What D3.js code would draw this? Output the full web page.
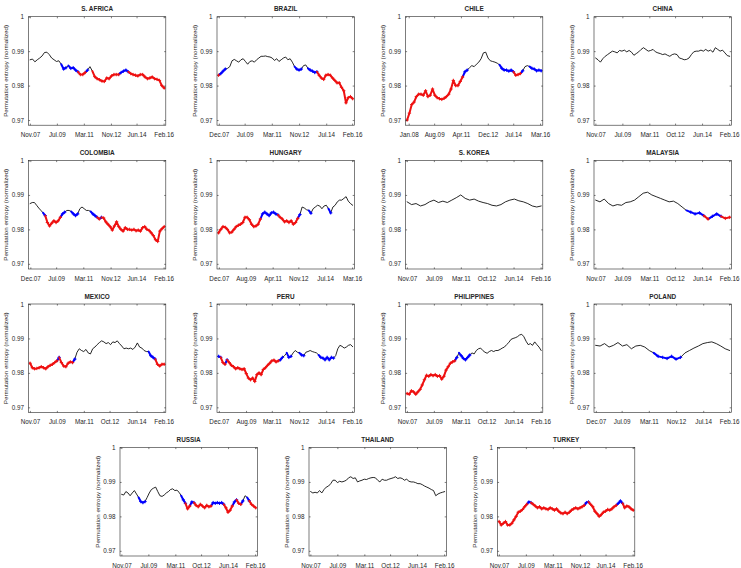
<!DOCTYPE html>
<html><head><meta charset="utf-8">
<script src="https://cdn.jsdelivr.net/npm/d3@7"></script>
<style>
body{margin:0;background:#fff}
svg{display:block}
text{font-family:"Liberation Sans",Arial,Helvetica,sans-serif;fill:#262626}
</style>
</head><body>
<svg id="chart" width="741" height="568"></svg>
<script>
// ---------------- DATA ----------------
const countries = ["S. AFRICA","BRAZIL","CHILE","CHINA","COLOMBIA","HUNGARY","S. KOREA","MALAYSIA",
  "MEXICO","PERU","PHILIPPINES","POLAND","RUSSIA","THAILAND","TURKEY"];

const xTickLabels = [
  ["Nov.07","Jul.09","Mar.11","Nov.12","Jun.14","Feb.16"],
  ["Dec.07","Jul.09","Mar.11","Nov.12","Jul.14","Feb.16"],
  ["Jan.08","Aug.09","Apr.11","Dec.12","Jul.14","Mar.16"],
  ["Nov.07","Jul.09","Mar.11","Oct.12","Jun.14","Feb.16"],
  ["Dec.07","Jul.09","Mar.11","Nov.12","Jun.14","Feb.16"],
  ["Dec.07","Aug.09","Apr.11","Nov.12","Jul.14","Mar.16"],
  ["Nov.07","Jul.09","Mar.11","Oct.12","Jun.14","Feb.16"],
  ["Nov.07","Jul.09","Mar.11","Oct.12","Jun.14","Feb.16"],
  ["Nov.07","Jul.09","Mar.11","Oct.12","Jun.14","Feb.16"],
  ["Dec.07","Aug.09","Mar.11","Nov.12","Jul.14","Feb.16"],
  ["Nov.07","Jul.09","Mar.11","Oct.12","Jun.14","Feb.16"],
  ["Dec.07","Jul.09","Mar.11","Nov.12","Jul.14","Feb.16"],
  ["Nov.07","Jul.09","Mar.11","Oct.12","Jun.14","Feb.16"],
  ["Nov.07","Jul.09","Mar.11","Oct.12","Jun.14","Feb.16"],
  ["Nov.07","Jul.09","Mar.11","Nov.12","Jun.14","Feb.16"]
];

// first and last observation date of each series
const periods = [
  ["2007-11-20","2016-02-28"],["2007-12-10","2016-02-28"],["2007-12-10","2016-04-10"],
  ["2007-11-20","2016-02-28"],["2007-12-10","2016-02-28"],["2007-12-10","2016-03-28"],
  ["2007-11-20","2016-02-28"],["2007-11-20","2016-02-28"],["2007-11-20","2016-02-28"],
  ["2007-12-10","2016-02-28"],["2007-11-20","2016-02-28"],["2007-12-10","2016-02-28"],
  ["2007-11-20","2016-02-28"],["2007-11-20","2016-02-28"],["2007-11-20","2016-02-28"]
];

const yTickValues = [0.97, 0.98, 0.99, 1];
const yTickLabels = ["0.97","0.98","0.99","1"];
const yRange = [0.9685, 1];

// runs of consecutive observations: k = normal, b = blue regime, r = red regime
const southAfrica = [
  ["k",[0.9875,0.9877,0.9869,0.9875,0.9880,0.9886,0.9896,0.9897,0.9890,0.9880,0.9875,0.9870,0.9872,0.9862]],
  ["b",[0.9848,0.9852]],["k",[0.9858]],["b",[0.9850,0.9852,0.9845,0.9840]],
  ["r",[0.9832,0.9832,0.9838]],["b",[0.9845]],["k",[0.9855,0.9842]],
  ["r",[0.9826,0.9820,0.9817,0.9813,0.9812,0.9822,0.9820,0.9828,0.9832,0.9832,0.9832]],
  ["b",[0.9838,0.9842,0.9845,0.9840]],
  ["r",[0.9835,0.9832,0.9830,0.9828,0.9832,0.9832,0.9825,0.9820,0.9822,0.9825,0.9820,0.9818,0.9815,0.9800,0.9793]]
];
const brazil = [
  ["r",[0.9830]],["b",[0.9835,0.9842,0.9848]],
  ["k",[0.9850,0.9855,0.9872,0.9876,0.9872,0.9868,0.9875,0.9878,0.9870,0.9862,0.9870,0.9872,0.9868,0.9875,0.9880,0.9885,0.9885,0.9886,0.9884,0.9883,0.9880,0.9873,0.9878,0.9870,0.9875,0.9880,0.9883,0.9875,0.9878,0.9868,0.9855]],
  ["b",[0.9848,0.9845,0.9848]],["k",[0.9858,0.9860,0.9850]],["b",[0.9845,0.9842,0.9838,0.9840]],
  ["r",[0.9830,0.9822,0.9818,0.9830,0.9832,0.9830,0.9822,0.9815,0.9808,0.9808,0.9795,0.9785,0.9750,0.9765,0.9768,0.9762]]
];
const chile = [
  ["r",[0.9700,0.9720,0.9745,0.9752,0.9768,0.9775,0.9775,0.9772,0.9785,0.9768,0.9772,0.9790,0.9772,0.9765,0.9762,0.9760,0.9763,0.9768,0.9775,0.9790,0.9815,0.9800,0.9800,0.9812,0.9825]],
  ["b",[0.9840,0.9845]],
  ["k",[0.9852,0.9858,0.9855,0.9862,0.9868,0.9878,0.9895,0.9897,0.9880,0.9872,0.9870,0.9868,0.9865,0.9860]],
  ["b",[0.9850,0.9845,0.9845,0.9842,0.9845,0.9840]],["r",[0.9830,0.9832,0.9835]],["b",[0.9843]],
  ["k",[0.9855,0.9858,0.9855]],["b",[0.9850,0.9848,0.9843,0.9845,0.9843]]
];
const china = [
  ["k",[0.9880,0.9875,0.9868,0.9878,0.9885,0.9890,0.9895,0.9900,0.9898,0.9895,0.9902,0.9900,0.9903,0.9898,0.9902,0.9897,0.9888,0.9893,0.9898,0.9905,0.9910,0.9905,0.9900,0.9902,0.9905,0.9898,0.9895,0.9893,0.9890,0.9892,0.9888,0.9885,0.9890,0.9892,0.9890,0.9880,0.9878,0.9875,0.9876,0.9880,0.9890,0.9898,0.9900,0.9900,0.9903,0.9900,0.9905,0.9900,0.9903,0.9897,0.9910,0.9905,0.9900,0.9903,0.9895,0.9887,0.9885]]
];
const colombia = [
  ["k",[0.9875,0.9878,0.9878,0.9870,0.9862,0.9855,0.9848]],["b",[0.9840]],
  ["r",[0.9820,0.9810,0.9818,0.9825,0.9820,0.9825,0.9835]],["b",[0.9845,0.9850]],
  ["k",[0.9855,0.9855,0.9852]],["b",[0.9845,0.9840,0.9845]],
  ["k",[0.9860,0.9865,0.9860,0.9855,0.9855,0.9852]],["b",[0.9845,0.9840,0.9835]],
  ["r",[0.9830]],["b",[0.9835]],
  ["r",[0.9833,0.9822,0.9815,0.9808,0.9798,0.9810,0.9822,0.9808,0.9800,0.9795,0.9805,0.9800,0.9800,0.9798,0.9800,0.9796,0.9798,0.9795,0.9805,0.9808,0.9800,0.9797,0.9790,0.9782,0.9770,0.9765,0.9795,0.9802,0.9808]]
];
const hungary = [
  ["r",[0.9790,0.9800,0.9808,0.9806,0.9800,0.9790,0.9792,0.9800,0.9808,0.9812,0.9815,0.9820,0.9835,0.9835,0.9828,0.9815,0.9808,0.9810,0.9815,0.9830]],
  ["b",[0.9845,0.9850,0.9845,0.9840,0.9848,0.9850,0.9845,0.9842]],
  ["r",[0.9835,0.9830,0.9822,0.9825,0.9820,0.9825,0.9815,0.9820,0.9832]],
  ["b",[0.9843]],["k",[0.9865,0.9862,0.9857,0.9855]],["b",[0.9847]],
  ["k",[0.9860,0.9865,0.9870,0.9868,0.9860,0.9868,0.9870,0.9860]],["b",[0.9848]],
  ["k",[0.9865,0.9870,0.9880,0.9885,0.9885,0.9890,0.9895,0.9882,0.9875,0.9870]]
];
const southKorea = [
  ["k",[0.9880,0.9872,0.9875,0.9868,0.9872,0.9880,0.9885,0.9878,0.9882,0.9878,0.9885,0.9892,0.9900,0.9890,0.9885,0.9888,0.9882,0.9878,0.9875,0.9870,0.9868,0.9872,0.9880,0.9885,0.9888,0.9883,0.9880,0.9875,0.9868,0.9865,0.9868]]
];
const malaysia = [
  ["k",[0.9885,0.9880,0.9888,0.9875,0.9868,0.9872,0.9870,0.9878,0.9880,0.9885,0.9895,0.9905,0.9908,0.9900,0.9895,0.9890,0.9885,0.9880,0.9882,0.9875,0.9865,0.9855]],
  ["b",[0.9850,0.9845,0.9848,0.9840]],["r",[0.9830]],["b",[0.9838,0.9845,0.9838]],["r",[0.9832,0.9835]]
];
const mexico = [
  ["r",[0.9828,0.9815,0.9812,0.9813,0.9815,0.9818,0.9815,0.9812,0.9818,0.9822,0.9825,0.9830,0.9835]],
  ["b",[0.9845]],["r",[0.9830,0.9820,0.9818,0.9828,0.9832,0.9830]],["b",[0.9840]],
  ["k",[0.9860,0.9870,0.9865,0.9862,0.9868,0.9858,0.9855,0.9870,0.9875,0.9882,0.9888,0.9893,0.9890,0.9885,0.9888,0.9882,0.9890,0.9888,0.9893,0.9885,0.9878,0.9870,0.9872,0.9870,0.9872,0.9868,0.9875,0.9887,0.9875,0.9872,0.9865,0.9862,0.9862]],
  ["b",[0.9850,0.9845,0.9840]],["r",[0.9825,0.9820,0.9825,0.9825]]
];
const peru = [
  ["b",[0.9848,0.9845]],["r",[0.9830,0.9825]],["b",[0.9838]],
  ["r",[0.9830,0.9822,0.9818,0.9812,0.9815,0.9812,0.9810,0.9812,0.9798,0.9785,0.9780,0.9785,0.9775,0.9795,0.9800,0.9795,0.9810,0.9815,0.9822,0.9828,0.9835,0.9837,0.9832,0.9835]],
  ["b",[0.9838,0.9845]],["k",[0.9850,0.9858]],["b",[0.9845,0.9848]],
  ["k",[0.9858,0.9865,0.9860,0.9858]],["b",[0.9852,0.9850]],
  ["k",[0.9860,0.9862,0.9865,0.9862,0.9860,0.9858,0.9852]],
  ["b",[0.9845,0.9843,0.9838,0.9845,0.9838,0.9845,0.9843]],
  ["k",[0.9850,0.9870,0.9880,0.9877,0.9872,0.9875,0.9880,0.9882,0.9876]]
];
const philippines = [
  ["r",[0.9740,0.9738,0.9748,0.9745,0.9738,0.9745,0.9752,0.9765,0.9780,0.9793,0.9790,0.9795,0.9792,0.9795,0.9790,0.9792,0.9782,0.9790,0.9808,0.9818,0.9828,0.9832,0.9835]],
  ["b",[0.9845]],["k",[0.9858]],["b",[0.9850,0.9842,0.9838,0.9845,0.9852]],
  ["k",[0.9858,0.9855,0.9865,0.9870,0.9872,0.9865,0.9860,0.9857,0.9862,0.9865,0.9862,0.9865,0.9865,0.9868,0.9872,0.9875,0.9882,0.9888,0.9897,0.9900,0.9902,0.9905,0.9910,0.9912,0.9905,0.9892,0.9882,0.9885,0.9880,0.9890,0.9882,0.9875,0.9865]]
];
const poland = [
  ["k",[0.9880,0.9878,0.9885,0.9875,0.9880,0.9888,0.9878,0.9882,0.9870,0.9878,0.9880,0.9875,0.9865,0.9858]],
  ["b",[0.9848,0.9845,0.9842,0.9848,0.9840,0.9845]],
  ["k",[0.9858,0.9865,0.9872,0.9878,0.9885,0.9888,0.9890,0.9885,0.9878,0.9870,0.9865]]
];
const russia = [
  ["k",[0.9864,0.9862,0.9872,0.9868,0.9860,0.9868,0.9875,0.9865,0.9855]],["b",[0.9843,0.9840,0.9843]],
  ["k",[0.9855,0.9868,0.9878,0.9882,0.9885,0.9872,0.9860,0.9858,0.9862,0.9868,0.9872,0.9878,0.9880,0.9875,0.9876,0.9870,0.9860]],
  ["b",[0.9848,0.9838]],["r",[0.9822,0.9830]],["b",[0.9842,0.9840]],
  ["r",[0.9832,0.9828,0.9835,0.9830,0.9825,0.9832,0.9828,0.9830]],
  ["b",[0.9840,0.9838,0.9840,0.9838,0.9840,0.9835]],["r",[0.9825,0.9812,0.9818,0.9830]],
  ["b",[0.9842,0.9848]],["r",[0.9838,0.9835]],["b",[0.9845]],["k",[0.9860,0.9855]],["b",[0.9845]],
  ["r",[0.9835,0.9830,0.9825]]
];
const thailand = [
  ["k",[0.9872,0.9868,0.9870,0.9868,0.9875,0.9868,0.9878,0.9885,0.9888,0.9895,0.9905,0.9905,0.9898,0.9902,0.9900,0.9902,0.9905,0.9912,0.9915,0.9910,0.9912,0.9900,0.9903,0.9905,0.9908,0.9907,0.9910,0.9912,0.9913,0.9912,0.9905,0.9900,0.9908,0.9905,0.9905,0.9908,0.9910,0.9912,0.9915,0.9910,0.9912,0.9910,0.9905,0.9908,0.9902,0.9900,0.9900,0.9898,0.9895,0.9895,0.9892,0.9888,0.9885,0.9882,0.9878,0.9875,0.9860,0.9865,0.9868,0.9870,0.9872]]
];
const turkey = [
  ["r",[0.9785,0.9775,0.9780,0.9785,0.9775,0.9775,0.9780,0.9790,0.9800,0.9812,0.9815,0.9820,0.9828,0.9835]],
  ["b",[0.9842,0.9840]],
  ["r",[0.9835,0.9830,0.9825,0.9828,0.9822,0.9825,0.9822,0.9820,0.9825,0.9822,0.9818,0.9822,0.9815,0.9810,0.9808,0.9812,0.9808,0.9812,0.9818,0.9822,0.9825,0.9822,0.9825,0.9828,0.9832]],
  ["b",[0.9840,0.9842]],
  ["r",[0.9835,0.9828,0.9815,0.9808,0.9800,0.9805,0.9812,0.9815,0.9820,0.9818,0.9822,0.9828,0.9832]],
  ["b",[0.9838,0.9845,0.9838]],["r",[0.9825,0.9830,0.9828,0.9822,0.9818]]
];

const seriesList = [southAfrica,brazil,chile,china,colombia,hungary,southKorea,malaysia,
  mexico,peru,philippines,poland,russia,thailand,turkey];

// ---------------- LAYOUT / STYLE ----------------
const colLefts = [28.5, 217, 405.5, 594];
const rowTops = [16.7, 160.5, 304, 447.5];
const lastRowLefts = [120, 309, 497.5];
const PW = 137.3, PH = 108.5;
const stateColor = {k:"#000000", b:"#0000ff", r:"#ee1111"};
const stateWidth = {k:0.85, b:2.0, r:2.0};
const markerHalf = 1.7;
const axisColor = "#262626";

const monthNames = ["Jan","Feb","Mar","Apr","May","Jun","Jul","Aug","Sep","Oct","Nov","Dec"];
function parseLabel(s){
  const [m, y] = s.split(".");
  return new Date(2000 + (+y), monthNames.indexOf(m), 15);
}
const parseDay = d3.timeParse("%Y-%m-%d");

const svg = d3.select("#chart");

seriesList.forEach((runs, i) => {
  const row = Math.floor(i / 4), col = i % 4;
  const left = row < 3 ? colLefts[col] : lastRowLefts[col];
  const top = rowTops[row];
  const g = svg.append("g").attr("transform", `translate(${left},${top})`);

  const d0 = parseDay(periods[i][0]), d1 = parseDay(periods[i][1]);
  const span = d1 - d0;
  const x = d3.scaleTime()
    .domain([new Date(+d0 - 0.012 * span), new Date(+d1 + 0.012 * span)])
    .range([0, PW]);
  const y = d3.scaleLinear().domain(yRange).range([PH, 0]);

  // flatten observations
  const pts = [];
  runs.forEach(([st, vals]) => vals.forEach(v => pts.push({st, v})));
  const n = pts.length;
  const tScale = d3.scaleLinear().domain([0, n - 1]).range([+d0, +d1]);
  pts.forEach((p, k) => p.date = new Date(tScale(k)));

  const line = d3.line().x(p => x(p.date)).y(p => y(p.v));

  let idx = 0;
  const segs = [];
  runs.forEach(([st, vals]) => {
    const start = Math.max(0, idx - 1);
    segs.push({st, pts: pts.slice(start, idx + vals.length), own: pts.slice(idx, idx + vals.length)});
    idx += vals.length;
  });
  const clipId = "clip" + i;
  g.append("clipPath").attr("id", clipId).append("rect")
    .attr("x", 0).attr("y", 0).attr("width", PW).attr("height", PH);
  const dg = g.append("g").attr("clip-path", `url(#${clipId})`);
  ["k","b","r"].forEach(s => {
    segs.filter(sg => sg.st === s).forEach(sg => {
      dg.append("path").attr("d", line(sg.pts))
        .attr("fill", "none").attr("stroke", stateColor[s])
        .attr("stroke-width", stateWidth[s])
        .attr("stroke-linejoin", "round").attr("stroke-linecap", "round");
      if (s !== "k") {
        // plus-shaped markers at each observation
        const dStr = sg.own.map(p => {
          const px = x(p.date), py = y(p.v);
          return `M${px - markerHalf},${py}h${2 * markerHalf}M${px},${py - markerHalf}v${2 * markerHalf}`;
        }).join("");
        dg.append("path").attr("d", dStr).attr("fill", "none")
          .attr("stroke", stateColor[s]).attr("stroke-width", 0.9);
      }
    });
  });

  const tickDates = xTickLabels[i].map(parseLabel);
  const fmt = (d, k) => xTickLabels[i][k];
  const xb = d3.axisBottom(x).tickValues(tickDates).tickFormat(fmt).tickSizeInner(-1.6).tickSizeOuter(0).tickPadding(7.5);
  const xt = d3.axisTop(x).tickValues(tickDates).tickFormat("").tickSizeInner(-1.6).tickSizeOuter(0);
  const yl = d3.axisLeft(y).tickValues(yTickValues).tickFormat((d,k)=>yTickLabels[k]).tickSizeInner(-1.6).tickSizeOuter(0).tickPadding(4.5);
  const yr = d3.axisRight(y).tickValues(yTickValues).tickFormat("").tickSizeInner(-1.6).tickSizeOuter(0);

  const ax = [
    g.append("g").attr("transform", `translate(0,${PH})`).call(xb),
    g.append("g").call(xt),
    g.append("g").call(yl),
    g.append("g").attr("transform", `translate(${PW},0)`).call(yr)
  ];
  ax.forEach(a => {
    a.select(".domain").remove();
    a.selectAll("line").attr("stroke", axisColor).attr("stroke-width", 0.6);
    a.selectAll("text").attr("fill", axisColor).style("font-size", "6.3px")
      .style("font-family", '"Liberation Sans",Arial,sans-serif');
  });

  g.append("rect").attr("x", 0).attr("y", 0).attr("width", PW).attr("height", PH)
    .attr("fill", "none").attr("stroke", axisColor).attr("stroke-width", 0.6);

  g.append("text").attr("x", PW / 2).attr("y", -5.3).attr("text-anchor", "middle")
    .style("font-size", "6.4px").style("font-weight", "bold").attr("fill", "#000")
    .text(countries[i]);

  g.append("text")
    .attr("transform", `translate(-22.3,${PH / 2}) rotate(-90)`)
    .attr("text-anchor", "middle").attr("dy", "0.35em")
    .style("font-size", "6.2px").attr("fill", axisColor)
    .text("Permutation entropy (normalized)");
});
</script>
</body></html>
